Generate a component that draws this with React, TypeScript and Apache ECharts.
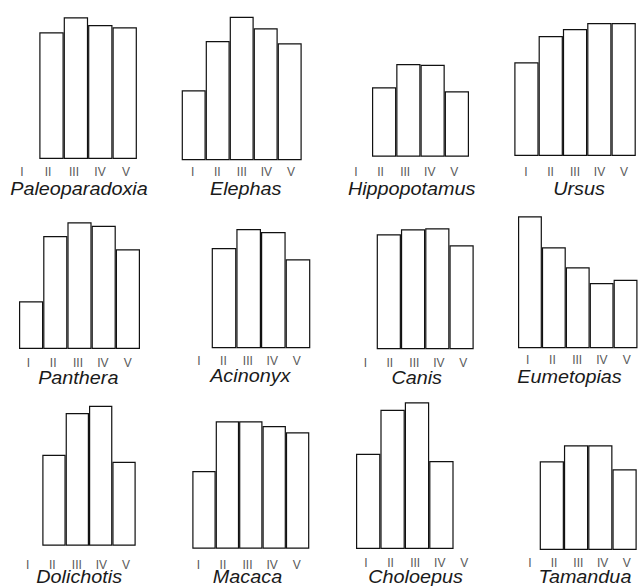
import React, { useEffect, useRef } from "react";
import * as echarts from "echarts";

const tickLabels = ["I", "II", "III", "IV", "V"];

const genera = [
  "Paleoparadoxia", "Elephas", "Hippopotamus", "Ursus",
  "Panthera", "Acinonyx", "Canis", "Eumetopias",
  "Dolichotis", "Macaca", "Choloepus", "Tamandua",
];

const paleoparadoxiaValues = [126.7, 141.7, 134, 131.7];
const elephasValues = [70, 119.3, 143.6, 132, 117];
const hippopotamusValues = [69.4, 92.7, 92, 65.4];
const ursusValues = [93.7, 120, 127, 133, 133];
const pantheraValues = [47.7, 113, 126.7, 123.3, 99.7];
const acinonyxValues = [100.3, 119.3, 116.3, 89];
const canisValues = [115, 120, 121, 104];
const eumetopiasValues = [132, 101, 81, 65.3, 68.6];
const dolichotisValues = [91, 132.7, 140, 84];
const macacaValues = [77.7, 127.4, 127.4, 122.7, 116.4];
const choloepusValues = [95.3, 139.3, 146.7, 88];
const tamanduaValues = [88.7, 104.7, 104.7, 80.7];

const seriesValues = [
  paleoparadoxiaValues, elephasValues, hippopotamusValues, ursusValues,
  pantheraValues, acinonyxValues, canisValues, eumetopiasValues,
  dolichotisValues, macacaValues, choloepusValues, tamanduaValues,
];

// layout: [barLeft, barWidth, baseline, labelFirstX, labelLastX, labelY, nameX, nameY]
const layouts: number[][] = [
  [39.3, 24.4, 159, 22, 126, 172, 79, 189],
  [181.7, 24, 160.3, 192.7, 291, 171.7, 245.7, 188.5],
  [372, 24.25, 156.7, 356, 454.3, 171.7, 411.7, 189],
  [514.3, 24.3, 156, 526, 624, 171.7, 579, 189],
  [19, 24.2, 349, 28.3, 127.7, 363.3, 78.3, 377.7],
  [211.7, 24.65, 348.3, 199, 296.7, 360.7, 250.3, 375.7],
  [376.7, 24.25, 349.3, 365.3, 463.3, 363.3, 416.7, 378.3],
  [518, 23.9, 348.3, 527.7, 626.7, 360, 569.5, 376.7],
  [42.3, 23.35, 545.7, 27.7, 126, 565, 79.2, 577.3],
  [192.3, 23.4, 548.7, 198.3, 296.7, 565, 247.5, 577.3],
  [356, 24.4, 549, 366, 464.3, 563.3, 415.5, 577.3],
  [539.7, 24.25, 550, 530, 628.3, 563.3, 585, 577.3],
];

const Y_MAX = 150;

export default function App() {
  const ref = useRef<HTMLDivElement>(null);
  useEffect(() => {
    if (!ref.current) return;
    const chart = echarts.init(ref.current, null, { renderer: "svg" });
    const grid: any[] = [];
    const xAxis: any[] = [];
    const yAxis: any[] = [];
    const series: any[] = [];
    const graphic: any[] = [];
    genera.forEach((name, i) => {
      const [bl, bw, base, lx0, lx1, ly, nx, ny] = layouts[i];
      const vals = seriesValues[i];
      // bar grid
      const gb = grid.length;
      grid.push({ left: bl, top: base - Y_MAX, width: bw * vals.length, height: Y_MAX });
      xAxis.push({
        type: "category", gridIndex: gb, show: false,
        data: vals.map((_, k) => String(k)),
      });
      yAxis.push({ type: "value", gridIndex: gb, show: false, min: 0, max: Y_MAX });
      series.push({
        type: "bar", xAxisIndex: gb, yAxisIndex: gb, data: vals,
        barWidth: "100%", barCategoryGap: 0,
        itemStyle: { color: "#ffffff", borderColor: "#111111", borderWidth: 1.2 },
        silent: true,
      });
      // label grid
      const step = (lx1 - lx0) / 4;
      const gl = grid.length;
      grid.push({ left: lx0 - step / 2, top: ly - 1, width: step * 5, height: 1 });
      xAxis.push({
        type: "category", gridIndex: gl, data: tickLabels,
        axisLine: { show: false }, axisTick: { show: false },
        axisLabel: {
          margin: 0, verticalAlign: "middle", lineHeight: 10, interval: 0,
          fontFamily: "Liberation Sans, Arial, sans-serif", fontSize: 12, color: "#5a5a5a",
        },
      });
      yAxis.push({ type: "value", gridIndex: gl, show: false });
      graphic.push({
        type: "text", x: nx, y: ny, scaleX: 1.1,
        style: {
          text: name, textAlign: "center", textVerticalAlign: "middle", lineHeight: 13,
          font: "italic 18px 'Liberation Sans', Arial, sans-serif", fill: "#1a1a1a",
        },
      });
    });
    chart.setOption({
      animation: false,
      backgroundColor: "#ffffff",
      grid, xAxis, yAxis, series, graphic,
    });
    return () => chart.dispose();
  }, []);
  return (
    <div
      ref={ref}
      style={{ position: "fixed", left: 0, top: 0, width: 639, height: 586 }}
    />
  );
}
